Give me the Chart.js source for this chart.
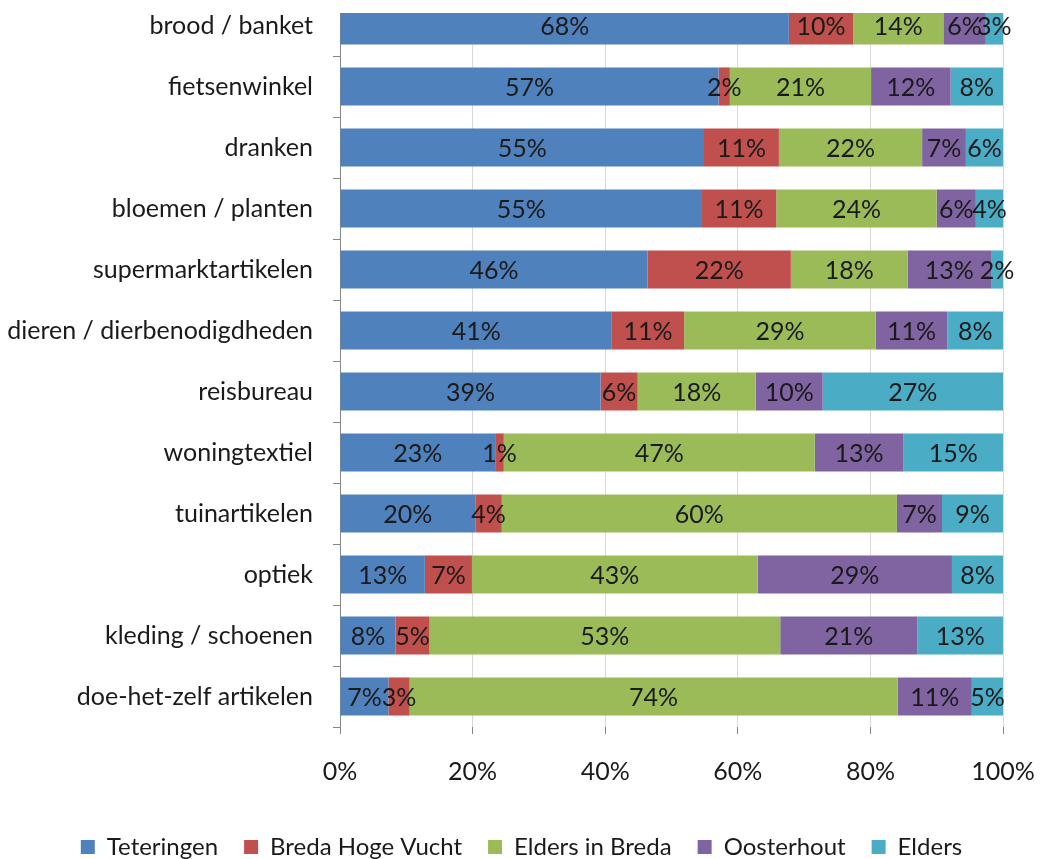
<!DOCTYPE html>
<html>
<head>
<meta charset="utf-8">
<script src="https://cdn.jsdelivr.net/npm/chart.js@4"></script>
<style>
    html, body { margin: 0; padding: 0; background: #fff; overflow: hidden; }
    #wrap { width: 1043px; height: 859px; overflow: hidden; }
    /* plot starts slightly above the visible picture, as in the original */
    #chart { display: block; margin-top: -5px; }
</style>
</head>
<body>
<div id="wrap"><canvas id="chart" width="1043" height="864"></canvas></div>
<script>
// Categories (top to bottom)
const categories = [
    'brood / banket', 'fietsenwinkel', 'dranken', 'bloemen / planten',
    'supermarktartikelen', 'dieren / dierbenodigdheden', 'reisbureau',
    'woningtextiel', 'tuinartikelen', 'optiek', 'kleding / schoenen',
    'doe-het-zelf artikelen'
];

// Shares per origin, in percent
const teteringen     = [67.7, 57.1, 54.9, 54.6, 46.4, 41.0, 39.3, 23.4, 20.4, 12.8, 8.4, 7.3];
const bredaHogeVucht = [9.7, 1.7, 11.3, 11.2, 21.6, 10.9, 5.6, 1.3, 4.0, 7.1, 5.1, 3.2];
const eldersInBreda  = [13.6, 21.3, 21.6, 24.2, 17.6, 28.9, 17.8, 46.9, 59.6, 43.1, 52.9, 73.6];
const oosterhout     = [6.4, 12.0, 6.6, 5.9, 12.6, 10.8, 10.1, 13.4, 6.8, 29.3, 20.7, 11.2];
const elders         = [2.6, 7.9, 5.6, 4.1, 1.8, 8.4, 27.2, 15.0, 9.2, 7.7, 12.9, 4.7];

const xTicks = [0, 20, 40, 60, 80, 100];

const FONT = 'Lato, "Open Sans", sans-serif';
const CROP_TOP = 18; // the plot is cut off at the top in the original picture

// Draw the percentage labels in the middle of every segment
const segmentLabels = {
    id: 'segmentLabels',
    afterDatasetsDraw(chart) {
        const ctx = chart.ctx;
        ctx.save();
        ctx.font = '25px ' + FONT;
        ctx.fillStyle = '#1a1a1a';
        ctx.textAlign = 'center';
        ctx.textBaseline = 'middle';
        chart.data.datasets.forEach((ds, i) => {
            const meta = chart.getDatasetMeta(i);
            meta.data.forEach((bar, j) => {
                const p = bar.getProps(['x', 'y', 'base'], true);
                const cx = (p.x + p.base) / 2;
                ctx.fillText(Math.round(ds.data[j]) + '%', cx, p.y + 1);
            });
        });
        ctx.restore();
    }
};

// White band over the top of the plot, like the cropped original
const topCrop = {
    id: 'topCrop',
    afterDraw(chart) {
        const ctx = chart.ctx;
        ctx.save();
        ctx.fillStyle = '#fff';
        ctx.fillRect(chart.chartArea.left - 10, 0, chart.width, CROP_TOP);
        ctx.restore();
    }
};

function makeSet(label, data, color) {
    return {
        label: label,
        data: data,
        backgroundColor: color,
        borderWidth: 0,
        categoryPercentage: 1,
        barPercentage: 0.625
    };
}

new Chart(document.getElementById('chart'), {
    type: 'bar',
    data: {
        labels: categories,
        datasets: [
            makeSet('Teteringen', teteringen, '#4F81BD'),
            makeSet('Breda Hoge Vucht', bredaHogeVucht, '#C0504D'),
            makeSet('Elders in Breda', eldersInBreda, '#9BBB59'),
            makeSet('Oosterhout', oosterhout, '#8064A2'),
            makeSet('Elders', elders, '#4BACC6')
        ]
    },
    options: {
        indexAxis: 'y',
        responsive: false,
        animation: false,
        layout: { padding: { left: 0, right: 0, top: 0, bottom: -10 } },
        scales: {
            x: {
                stacked: true,
                min: 0,
                max: 100,
                afterBuildTicks(scale) {
                    scale.ticks = xTicks.map(v => ({ value: v }));
                },
                afterFit(scale) {
                    scale.height = 82;
                    scale.paddingLeft = 0;
                    scale.paddingRight = 40;
                },
                ticks: {
                    callback: v => v + '%',
                    font: { family: FONT, size: 25 },
                    color: '#1a1a1a',
                    padding: 23
                },
                grid: {
                    color: '#d9d9d9',
                    tickColor: '#868686',
                    tickLength: 7
                },
                border: { display: false }
            },
            y: {
                stacked: true,
                afterFit(scale) {
                    scale.width = 340;
                    scale.paddingTop = 0;
                    scale.paddingBottom = 0;
                },
                ticks: {
                    font: { family: FONT, size: 25 },
                    color: '#1a1a1a',
                    padding: 20
                },
                grid: {
                    drawOnChartArea: false,
                    tickColor: '#868686',
                    tickLength: 7
                },
                border: { color: '#868686', width: 1 }
            }
        },
        plugins: {
            legend: {
                position: 'bottom',
                labels: {
                    font: { family: FONT, size: 24 },
                    color: '#1a1a1a',
                    boxWidth: 14,
                    boxHeight: 14,
                    padding: 26
                }
            },
            tooltip: { enabled: false }
        }
    },
    plugins: [segmentLabels, topCrop]
});
</script>
</body>
</html>
